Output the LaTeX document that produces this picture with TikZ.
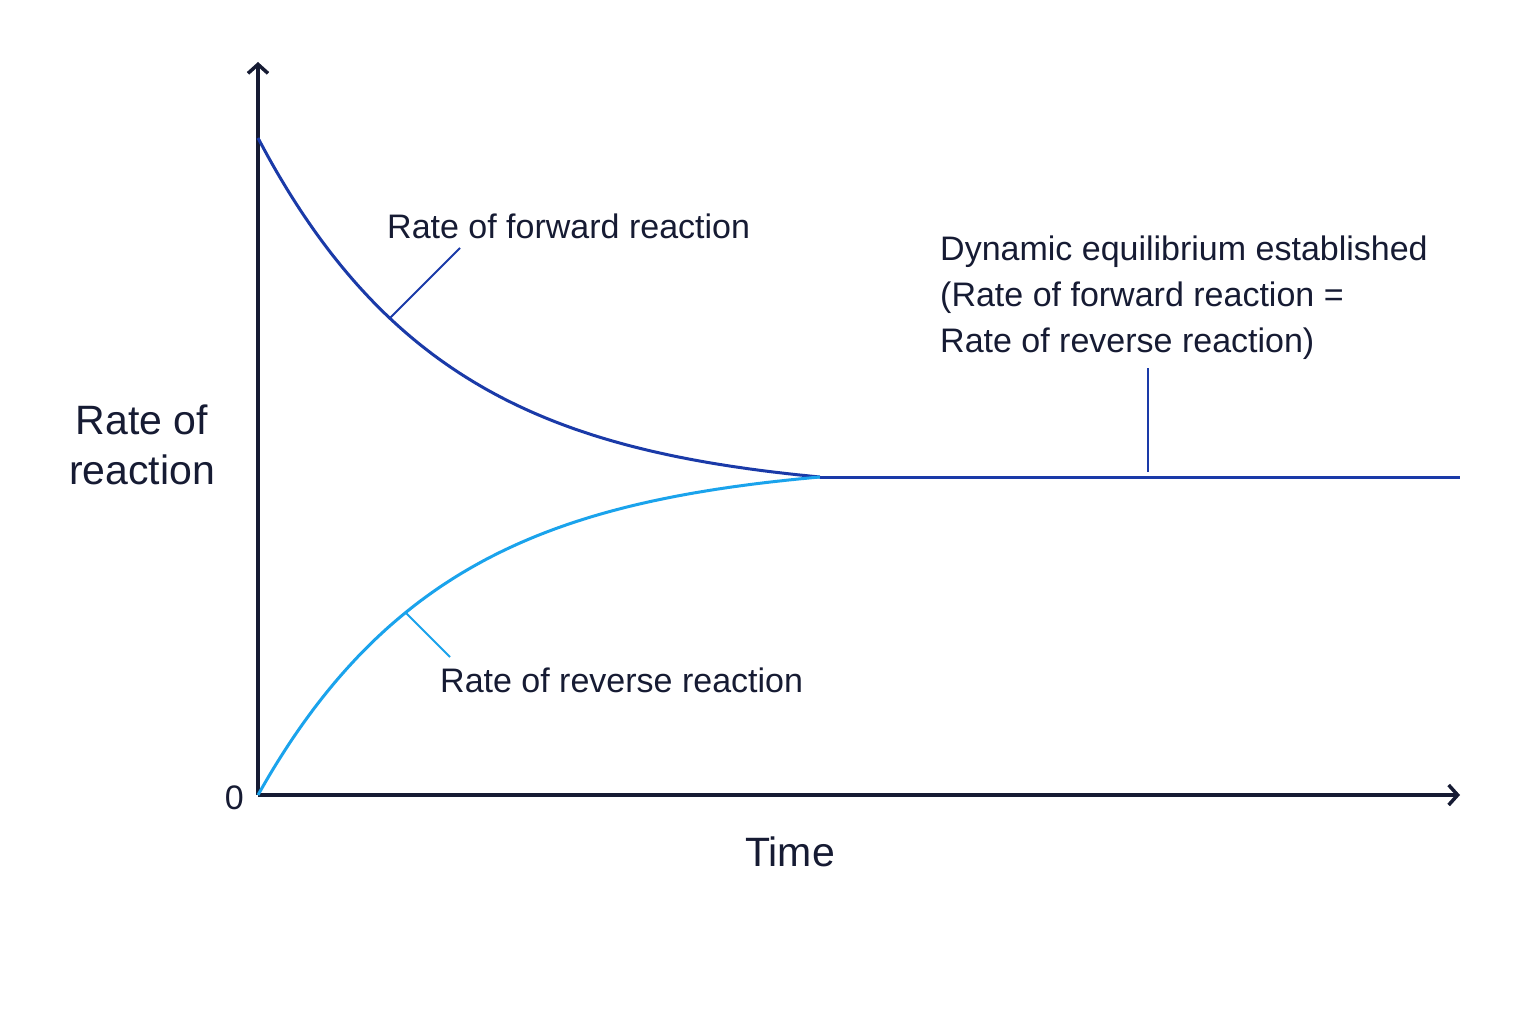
\documentclass[tikz,border=0pt]{standalone}
\usepackage{fontspec}
\setmainfont{Liberation Sans}
\usetikzlibrary{arrows.meta}
\definecolor{axis}{HTML}{161B33}
\definecolor{fwd}{HTML}{1A3AA8}
\definecolor{rev}{HTML}{1AA3EC}
\begin{document}
\begin{tikzpicture}[x=1pt,y=-1pt,
  ax/.style={axis,line width=3.5pt,-{Straight Barb[length=9pt,width=20pt,line width=3.5pt]}},
  lbl/.style={font=\fontsize{34}{46}\selectfont,text=axis,inner sep=0pt},
  big/.style={font=\fontsize{41}{50}\selectfont,text=axis,inner sep=0pt,align=center}]
\useasboundingbox[fill=white] (0,0) rectangle (1536,1024);
\coordinate (O) at (258,795);
\coordinate (Ytop) at (258,62);
\coordinate (Xend) at (1460,795);
\draw[ax] (O) -- (Ytop);
\draw[ax] (O) -- (Xend);
\draw[fwd,line width=3pt] plot[domain=258:820,samples=120,smooth] (\x,{477-339*(exp(-3*(\x-258)/562)-0.0498)/0.9502});
\draw[rev,line width=3pt] plot[domain=258:820,samples=120,smooth] (\x,{477+318*(exp(-3*(\x-258)/562)-0.0498)/0.9502});
\draw[fwd,line width=3pt] (820,477) -- (1460,477);
\node[lbl,anchor=east] (zero) at (244,798) {0};
\node[big] (ylab) at (142,445) {Rate of\\reaction};
\node[big] (xlab) at (790,852) {Time};
\node[lbl,anchor=west] (fl) at (387,226) {Rate of forward reaction};
\node[lbl,anchor=west] (rl) at (440,680) {Rate of reverse reaction};
\node[lbl,anchor=north west,align=left] (el) at (940,236) {Dynamic equilibrium established\\(Rate of forward reaction =\\Rate of reverse reaction)};
\coordinate (fp) at (390,318); \coordinate (fq) at (460,248);
\coordinate (rp) at (405,612); \coordinate (rq) at (450,657);
\coordinate (ep) at (1148,472); \coordinate (eq) at (1148,368);
\draw[fwd,line width=2pt] (fp) -- (fq);
\draw[rev,line width=2pt] (rp) -- (rq);
\draw[fwd,line width=2pt] (ep) -- (eq);
\end{tikzpicture}
\end{document}
